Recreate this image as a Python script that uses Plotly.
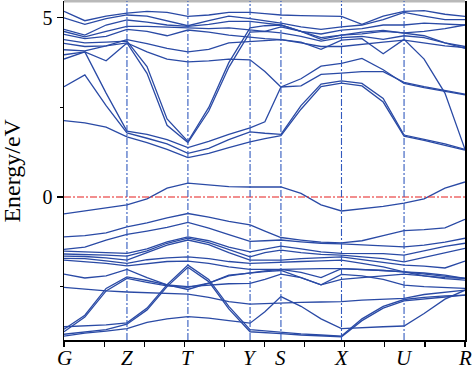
import plotly.graph_objects as go

# high-symmetry points along the path (path coordinate 0..1)
kpath_labels = ["G", "Z", "T", "Y", "S", "X", "U", "R"]
kpath_pos = [0.0, 0.157, 0.309, 0.464, 0.541, 0.692, 0.848, 1.0]

# sampling grid of the bands along the path
k_grid = [0.0, 0.052, 0.105, 0.157, 0.207, 0.257, 0.309, 0.361, 0.411, 0.464, 0.501,
          0.541, 0.591, 0.641, 0.692, 0.743, 0.796, 0.848, 0.898, 0.950, 1.0]

# ---- conduction bands (eV) ----
cb_c1 = [-0.47, -0.39, -0.31, -0.22, -0.05, 0.25, 0.39, 0.34, 0.29, 0.28, 0.28, 0.28, 0.10, -0.22, -0.39, -0.33, -0.26, -0.17, -0.05, 0.25, 0.42]
cb_c2 = [2.13, 2.07, 1.95, 1.68, 1.52, 1.33, 1.10, 1.22, 1.38, 1.54, 1.63, 1.71, 2.45, 3.08, 3.18, 3.10, 2.65, 1.70, 1.58, 1.45, 1.31]
cb_c3 = [3.08, 3.41, 2.55, 1.79, 1.64, 1.48, 1.22, 1.36, 1.60, 1.82, 1.78, 1.75, 2.55, 3.15, 3.24, 3.17, 2.75, 1.73, 1.61, 1.48, 1.33]
cb_c4 = [3.85, 4.05, 2.90, 1.84, 1.75, 1.60, 1.38, 1.55, 1.75, 1.93, 2.10, 3.07, 3.30, 3.65, 3.73, 3.87, 3.55, 3.17, 3.05, 2.95, 2.85]
cb_u2 = [3.97, 4.05, 3.80, 4.30, 4.05, 3.85, 3.77, 3.80, 3.85, 3.83, 3.50, 3.07, 3.10, 3.42, 3.46, 3.50, 3.50, 3.20, 3.08, 2.97, 2.87]
cb_u1 = [4.11, 4.08, 4.22, 4.39, 4.28, 4.15, 4.05, 4.12, 4.30, 4.34, 4.36, 4.39, 4.30, 4.20, 4.20, 4.25, 4.32, 4.38, 4.30, 4.22, 4.17]
cb_v2 = [4.29, 4.20, 4.22, 4.30, 3.45, 2.00, 1.52, 2.40, 3.62, 4.60, 4.62, 4.58, 4.48, 4.35, 4.45, 4.48, 4.40, 4.50, 4.45, 4.30, 4.20]
cb_v1 = [4.39, 4.30, 4.32, 4.35, 3.64, 2.18, 1.55, 2.50, 3.75, 4.72, 4.78, 4.80, 4.62, 4.45, 4.52, 4.60, 4.65, 4.58, 4.50, 4.30, 4.15]
cb_w = [4.54, 4.42, 4.48, 4.68, 4.62, 4.50, 4.66, 4.60, 4.52, 4.45, 4.42, 4.39, 4.32, 4.12, 4.38, 4.42, 4.00, 4.40, 3.85, 2.90, 1.33]
cb_b4 = [4.62, 4.47, 4.62, 4.76, 4.76, 4.74, 4.71, 4.70, 4.72, 4.66, 4.62, 4.75, 4.62, 4.40, 4.52, 4.55, 4.62, 4.58, 4.62, 4.70, 4.80]
cb_b3 = [4.68, 4.52, 4.80, 4.94, 4.88, 4.80, 4.76, 4.82, 4.90, 4.90, 4.85, 4.80, 4.62, 4.55, 4.66, 4.70, 4.80, 4.80, 4.85, 4.82, 4.80]
cb_b2 = [5.00, 4.82, 4.98, 5.08, 5.05, 4.92, 4.78, 4.92, 5.05, 4.98, 4.92, 4.85, 4.75, 4.68, 4.75, 4.80, 4.95, 5.15, 5.05, 4.95, 4.95]
cb_b1 = [5.18, 4.92, 5.05, 5.13, 5.18, 5.15, 5.04, 5.08, 5.15, 5.15, 5.12, 5.08, 5.06, 5.05, 5.04, 4.82, 5.05, 5.18, 5.20, 5.10, 5.04]

# ---- valence bands (eV) ----
vb_01 = [-1.11, -1.08, -1.00, -0.83, -0.72, -0.58, -0.46, -0.56, -0.68, -0.78, -0.95, -1.13, -1.20, -1.26, -1.28, -1.22, -1.08, -0.94, -0.91, -0.86, -0.62]
vb_02 = [-1.46, -1.40, -1.20, -1.04, -0.95, -0.85, -0.71, -0.87, -1.05, -1.24, -1.22, -1.20, -1.25, -1.29, -1.31, -1.34, -1.37, -1.39, -1.34, -1.26, -1.15]
vb_03 = [-1.51, -1.52, -1.55, -1.57, -1.45, -1.25, -1.11, -1.22, -1.40, -1.53, -1.45, -1.37, -1.45, -1.53, -1.57, -1.57, -1.58, -1.62, -1.50, -1.38, -1.29]
vb_04 = [-1.59, -1.60, -1.62, -1.65, -1.50, -1.29, -1.15, -1.27, -1.47, -1.67, -1.55, -1.48, -1.55, -1.60, -1.62, -1.66, -1.72, -1.81, -1.68, -1.55, -1.43]
vb_05 = [-1.65, -1.66, -1.70, -1.76, -1.55, -1.34, -1.20, -1.33, -1.55, -1.76, -1.76, -1.76, -1.72, -1.69, -1.67, -1.75, -1.82, -1.90, -1.93, -1.98, -1.79]
vb_06 = [-1.71, -1.72, -1.78, -1.85, -1.75, -1.70, -1.67, -1.72, -1.80, -1.85, -1.84, -1.83, -1.80, -1.78, -1.76, -1.85, -1.95, -2.09, -2.15, -2.22, -2.27]
vb_07 = [-1.76, -1.80, -1.85, -1.92, -1.85, -1.80, -1.79, -1.85, -1.95, -2.02, -2.02, -2.02, -2.10, -2.25, -2.00, -2.02, -2.05, -2.09, -2.20, -2.28, -2.32]
vb_08 = [-2.15, -2.26, -2.20, -2.02, -2.25, -2.45, -2.58, -2.40, -2.18, -2.11, -2.08, -2.05, -2.25, -2.45, -2.16, -2.20, -2.30, -2.46, -2.50, -2.52, -2.55]
vb_09 = [-2.52, -2.58, -2.62, -2.65, -2.67, -2.69, -2.71, -2.80, -2.92, -2.99, -2.97, -2.95, -2.94, -2.93, -2.92, -2.88, -2.85, -2.83, -2.72, -2.65, -2.60]
vb_10 = [-3.69, -3.30, -2.55, -2.23, -2.33, -2.45, -2.50, -2.45, -2.42, -2.41, -2.30, -2.15, -2.25, -2.45, -2.30, -2.25, -2.20, -2.15, -2.20, -2.25, -2.27]
vb_11 = [-3.76, -3.35, -2.62, -2.27, -2.38, -2.48, -2.52, -2.40, -2.20, -2.11, -2.06, -2.02, -2.00, -2.00, -2.00, -2.02, -2.05, -2.09, -2.12, -2.18, -2.27]
vb_12 = [-3.62, -3.60, -3.57, -3.51, -3.10, -2.45, -1.90, -2.30, -3.05, -3.70, -3.74, -3.78, -3.82, -3.85, -3.88, -3.40, -3.05, -2.86, -2.80, -2.76, -2.74]
vb_13 = [-3.83, -3.76, -3.70, -3.55, -3.15, -2.50, -1.96, -2.36, -3.12, -3.76, -3.78, -3.81, -3.85, -3.88, -3.90, -3.45, -3.10, -2.90, -2.84, -2.79, -2.74]
vb_14 = [-3.88, -3.80, -3.74, -3.67, -3.50, -3.40, -3.34, -3.38, -3.45, -3.52, -3.20, -2.78, -3.05, -3.40, -3.67, -3.64, -3.62, -3.60, -3.25, -2.85, -2.60]

bands = [cb_c1, cb_c2, cb_c3, cb_c4, cb_u2, cb_u1, cb_v2, cb_v1, cb_w, cb_b4, cb_b3, cb_b2, cb_b1,
         vb_01, vb_02, vb_03, vb_04, vb_05, vb_06, vb_07, vb_08, vb_09, vb_10, vb_11, vb_12, vb_13, vb_14]

y_major = [5, 0]
y_minor = [2.5, -2.5]
x_minor = [i / 10 for i in range(11)]
y_title = "Energy/eV"

BAND_COLOR = "rgb(42,74,165)"
FONT = "Liberation Serif"

fig = go.Figure()
for b in bands:
    fig.add_trace(go.Scatter(x=k_grid, y=b, mode="lines",
                             line=dict(color=BAND_COLOR, width=1.3),
                             showlegend=False, hoverinfo="skip"))

fig.update_layout(
    width=474, height=370,
    margin=dict(l=64, r=9, t=1, b=30),
    paper_bgcolor="white", plot_bgcolor="white",
    font=dict(family=FONT, color="black"),
    hovermode=False,
)

# top frame (grey)
fig.add_shape(type="line", xref="paper", yref="paper", x0=0, x1=1, y0=1, y1=1,
              line=dict(color="rgb(185,185,185)", width=3))
# Fermi level
fig.add_hline(y=0, line=dict(color="rgb(230,30,30)", width=1.2, dash="7px,2px,2px,2px"))
# high-symmetry vertical lines
for xp in kpath_pos[1:-1]:
    fig.add_vline(x=xp, line=dict(color="rgb(50,90,190)", width=1.1, dash="7px,2px,2px,2px"))

# k-point labels
for xp, lab in zip(kpath_pos, kpath_labels):
    fig.add_annotation(x=xp, xref="x", y=-0.053, yref="paper", text="<i>%s</i>" % lab,
                       showarrow=False, xanchor="center", yanchor="middle",
                       font=dict(family=FONT, size=21, color="black"))
# y-axis title
fig.add_annotation(x=-0.132, xref="paper", y=0.5, yref="paper", text=y_title,
                   textangle=-90, showarrow=False, xanchor="center", yanchor="middle",
                   font=dict(family=FONT, size=24, color="black"))

fig.update_xaxes(
    range=[0, 1], showgrid=False, zeroline=False,
    showline=True, linecolor="black", linewidth=1.5, mirror=False,
    tickmode="array", tickvals=x_minor, ticktext=[""] * len(x_minor),
    ticks="outside", ticklen=5, tickcolor="black", tickwidth=1.2,
)
fig.update_yaxes(
    range=[-3.99, 5.47], showgrid=False, zeroline=False,
    showline=True, linecolor="black", linewidth=1.5, mirror=True,
    tickmode="array", tickvals=y_major, ticktext=[str(v) for v in y_major],
    ticks="outside", ticklen=6, tickwidth=1.2, tickcolor="black",
    tickfont=dict(family=FONT, size=20),
    minor=dict(tickmode="array", tickvals=y_minor, ticks="outside", ticklen=3,
               tickcolor="black", tickwidth=1.2),
)

fig.write_html("out.html", config={"staticPlot": True, "displayModeBar": False},
               post_script="document.body.style.margin='0px';document.body.style.overflow='hidden';")
